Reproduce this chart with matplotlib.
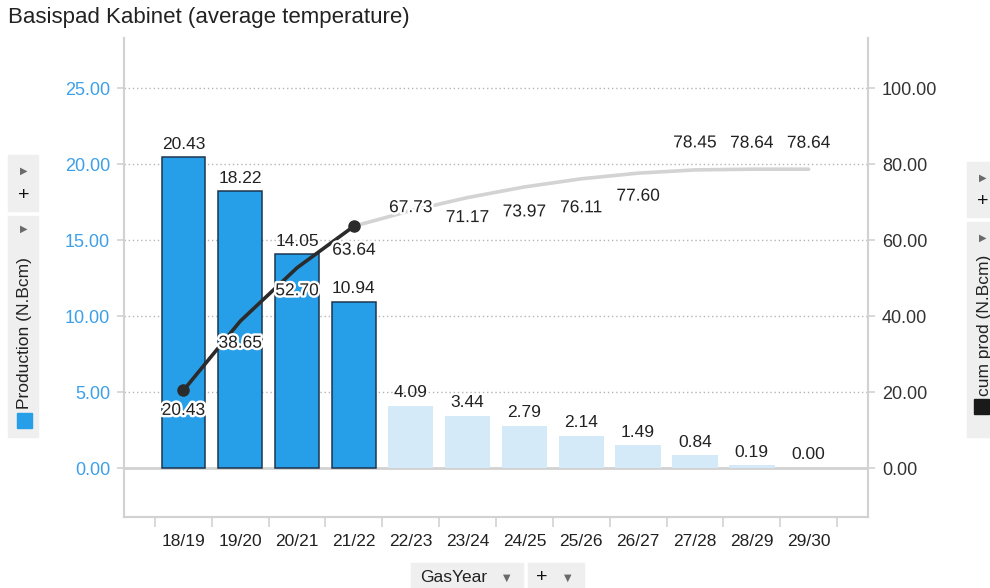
import matplotlib
matplotlib.use("Agg")
import matplotlib.pyplot as plt
import matplotlib.patheffects as pe
from matplotlib.patches import Rectangle
import numpy as np

plt.rcParams['font.family'] = ['Liberation Sans', 'DejaVu Sans']

# ---- data ----
gas_years = ["18/19", "19/20", "20/21", "21/22", "22/23", "23/24",
             "24/25", "25/26", "26/27", "27/28", "28/29", "29/30"]
production = [20.43, 18.22, 14.05, 10.94, 4.09, 3.44,
              2.79, 2.14, 1.49, 0.84, 0.19, 0.00]
cum_prod = [20.43, 38.65, 52.70, 63.64, 67.73, 71.17,
            73.97, 76.11, 77.60, 78.45, 78.64, 78.64]
n_actual = 4  # first four gas years are realised, the rest forecast
left_ticks = [0, 5, 10, 15, 20, 25]
right_ticks = [0, 20, 40, 60, 80, 100]

# label offsets (pixels, + is up) for the cumulative labels
cum_label_dy = [-20, -22, -23, -24, 3, -20, -25, -29, -23, 27, 26, 26]

W, H = 990, 588
fig = plt.figure(figsize=(W / 100, H / 100), dpi=100)


def fx(px):
    return px / W


def fy(py):
    return 1 - py / H


ax = fig.add_axes([fx(124), fy(517), fx(868) - fx(124), fy(38) - fy(517)])
ax2 = ax.twinx()

x = np.arange(len(gas_years))
dark = "#279fe8"
light = "#d5eaf9"
grid_c = "#d2d2d2"

# bars
for i, v in enumerate(production):
    if i < n_actual:
        ax.bar(x[i], v, width=0.77, color=dark, edgecolor="#1c3550",
               linewidth=1.1, zorder=3)
    else:
        ax.bar(x[i], v, width=0.80, color=light, edgecolor="none", zorder=3)
    ax.annotate(f"{v:.2f}", (x[i], v), xytext=(0, 4), textcoords="offset points",
                ha="center", va="bottom", fontsize=12.5, color="#222222", zorder=6)

ax.set_xlim(-1.045, 12.045)
ax.set_ylim(-3.22, 28.29)
ax2.set_ylim(-12.88, 113.16)

# grid
for t in left_ticks[1:]:
    ax.axhline(t, color="#b5b5b5", lw=1.0, ls=(0, (1, 2)), zorder=1)
ax.axhline(0, color=grid_c, lw=2.0, zorder=2)

# cumulative line
ax2.plot(x[n_actual - 1:], cum_prod[n_actual - 1:], color="#d3d3d3", lw=2.6,
         solid_capstyle="round", zorder=4)
ax2.plot(x[:n_actual], cum_prod[:n_actual], color="#2b2b2b", lw=2.6,
         solid_capstyle="round", zorder=5)
ax2.plot([x[0], x[n_actual - 1]], [cum_prod[0], cum_prod[n_actual - 1]],
         ls="none", marker="o", ms=8, color="#2b2b2b", zorder=6)
for i, v in enumerate(cum_prod):
    ax2.annotate(f"{v:.2f}", (x[i], v), xytext=(0, cum_label_dy[i] * 0.72),
                 textcoords="offset points", ha="center", va="center",
                 fontsize=12.5, color="#222222", zorder=7,
                 path_effects=[pe.withStroke(linewidth=3.5, foreground="white")])

# axes styling
for a in (ax, ax2):
    a.spines["top"].set_visible(False)
    for s in ("left", "right", "bottom"):
        a.spines[s].set_color(grid_c)
        a.spines[s].set_linewidth(1.5)
    a.set_facecolor("none")
ax.set_zorder(ax2.get_zorder() - 1) if False else None

ax.set_yticks(left_ticks)
ax.set_yticklabels([f"{t:.2f}" for t in left_ticks])
ax.tick_params(axis="y", colors=grid_c, labelcolor="#3d9fe8", labelsize=13,
               length=5, width=1.2, pad=5)
ax2.set_yticks(right_ticks)
ax2.set_yticklabels([f"{t:.2f}" for t in right_ticks])
ax2.tick_params(axis="y", colors=grid_c, labelcolor="#333333", labelsize=13,
                length=5, width=1.2, pad=5)

ax.set_xticks(x)
ax.set_xticklabels(gas_years)
ax.set_xticks(np.arange(-0.5, len(gas_years)), minor=True)
ax.tick_params(axis="x", which="major", length=0, pad=12, labelsize=12.5,
               labelcolor="#222222")
ax.tick_params(axis="x", which="minor", length=7.5, width=1.2, colors=grid_c)

# title
fig.text(fx(8), fy(18), "Basispad Kabinet (average temperature)", fontsize=16,
         color="#222222", ha="left", va="center")

box_c = "#efefef"
tri_c = "#6a6a6a"


def box(x0, y0, x1, y1):
    fig.patches.append(Rectangle((fx(x0), fy(y1)), fx(x1) - fx(x0), fy(y0) - fy(y1),
                                 transform=fig.transFigure, color=box_c, zorder=0))


# left axis controls
box(8, 155, 38, 211)
box(8, 216, 38, 437)
fig.text(fx(24), fy(171), "\u25B6", fontsize=7, color=tri_c, ha="center", va="center",
         family=["DejaVu Sans"])
fig.text(fx(24), fy(196), "+", fontsize=14, color="#111111", ha="center", va="center")
fig.text(fx(24), fy(229), "\u25B6", fontsize=7, color=tri_c, ha="center", va="center",
         family=["DejaVu Sans"])
fig.text(fx(25), fy(409), "Production (N.Bcm)", rotation=90, fontsize=12.5,
         color="#222222", ha="center", va="bottom")
fig.patches.append(Rectangle((fx(17), fy(428)), fx(15), 15 / H, transform=fig.transFigure,
                             color=dark, zorder=1))

# right axis controls
box(967, 162, 995, 217)
box(967, 222, 995, 437)
fig.text(fx(983), fy(178), "\u25B6", fontsize=7, color=tri_c, ha="center", va="center",
         family=["DejaVu Sans"])
fig.text(fx(983), fy(202), "+", fontsize=14, color="#111111", ha="center", va="center")
fig.text(fx(983), fy(238), "\u25B6", fontsize=7, color=tri_c, ha="center", va="center",
         family=["DejaVu Sans"])
fig.text(fx(984), fy(396), "cum prod (N.Bcm)", rotation=90, fontsize=12.5,
         color="#222222", ha="center", va="bottom")
fig.patches.append(Rectangle((fx(974), fy(414)), fx(15), 15 / H, transform=fig.transFigure,
                             color="#1a1a1a", zorder=1))

# bottom axis controls
box(411, 563, 523, 592)
box(528, 563, 584, 592)
fig.text(fx(420), fy(577), "GasYear", fontsize=12.5, color="#222222", ha="left",
         va="center")
fig.text(fx(507), fy(578), "\u25BC", fontsize=7, color=tri_c, ha="center", va="center",
         family=["DejaVu Sans"])
fig.text(fx(542), fy(578), "+", fontsize=14, color="#111111", ha="center", va="center")
fig.text(fx(568), fy(578), "\u25BC", fontsize=7, color=tri_c, ha="center", va="center",
         family=["DejaVu Sans"])

fig.savefig("out.png", dpi=100)
